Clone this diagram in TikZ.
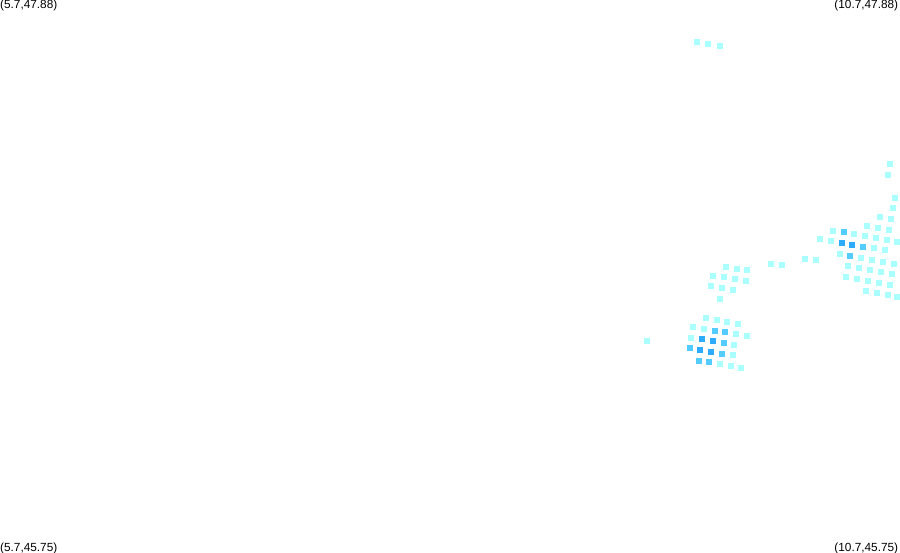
\documentclass[tikz,border=0pt]{standalone}
\usepackage{fontspec}
\setmainfont{Liberation Sans}
\definecolor{cellA}{HTML}{AAFFFF}
\definecolor{cellB}{HTML}{55CCFF}
\definecolor{cellC}{HTML}{2EAAFF}
\tikzset{
  cornerlabel/.style={inner sep=0pt,font=\fontsize{11.8}{12}\selectfont,text=black},
  cellA/.style={fill=cellA},
  cellB/.style={fill=cellB},
  cellC/.style={fill=cellC}
}
\newcommand{\cellset}[2]{%
  \foreach \cx/\cy in {#2}{\fill[#1] (\cx-3,-\cy-3) rectangle ++(6,6);}}
\begin{document}
\begin{tikzpicture}[x=1pt,y=1pt]
\useasboundingbox (0,-552) rectangle (900,0);
\node[cornerlabel,anchor=west] (tl) at (0,-5.5) {(5.7,47.88)};
\node[cornerlabel,anchor=east] (tr) at (898.3,-5.5) {(10.7,47.88)};
\node[cornerlabel,anchor=west] (bl) at (0,-548.5) {(5.7,45.75)};
\node[cornerlabel,anchor=east] (br) at (898.3,-548.5) {(10.7,45.75)};
\cellset{cellA}{697/42,708/44,720/46,890/164,888/175,647/341,771/264,782/265,805/259,816/260,
726/267,737/269,747/270,713/276,724/277,735/279,746/281,711/286,722/288,733/290,720/299,
706/318,717/320,727/322,738/324,693/327,704/329,736/334,747/336,691/338,734/345,733/355,720/364,731/366,741/368,
895/198,893/208,880/217,891/219,867/226,878/228,889/230,833/231,854/234,865/236,876/238,887/240,897/242,820/239,831/241,874/248,885/250,
840/254,861/258,872/260,883/262,894/264,848/266,859/268,870/270,881/272,892/274,846/277,857/279,868/281,879/283,890/285,866/291,877/293,888/295,897/297}
\cellset{cellB}{715/331,725/332,724/343,690/348,722/354,699/361,709/362,844/232,863/247,850/256}
\cellset{cellC}{702/339,713/341,700/350,711/352,842/243,852/245}
\end{tikzpicture}
\end{document}
